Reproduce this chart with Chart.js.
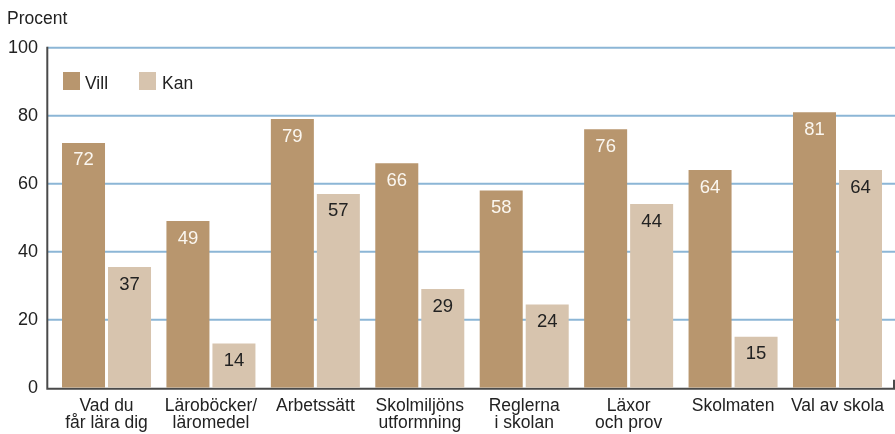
<!DOCTYPE html>
<html>
<head>
<meta charset="utf-8">
<script src="https://cdn.jsdelivr.net/npm/chart.js@4"></script>
<style>
  html, body { margin: 0; padding: 0; background: #fff; }
</style>
</head>
<body>
<canvas id="chart" width="895" height="434"></canvas>
<script>
const categories = [
    ['Vad du', 'får lära dig'],
    ['Läroböcker/', 'läromedel'],
    'Arbetssätt',
    ['Skolmiljöns', 'utformning'],
    ['Reglerna', 'i skolan'],
    ['Läxor', 'och prov'],
    'Skolmaten',
    'Val av skola'
]
// bar heights as drawn in the picture
const villValues = [72, 49, 79, 66, 58, 76, 64, 81]
const kanValues = [35.5, 13, 57, 29, 24.5, 54, 15, 64]
// numbers printed on the bars
const villPrinted = [72, 49, 79, 66, 58, 76, 64, 81]
const kanPrinted = [37, 14, 57, 29, 24, 44, 15, 64]
const yTicks = [0, 20, 40, 60, 80, 100]

const FONT = '"Liberation Sans", Arial, sans-serif'
const TEXT = '#222222'
const VILL = '#b8966e'
const KAN = '#d7c4ae'

const gridPlugin = {
    id: 'grid',
    beforeDatasetsDraw(chart) {
        const c = chart.ctx
        const y = chart.scales.y
        const left = chart.chartArea.left - 7
        const right = chart.width
        const zero = y.getPixelForValue(0)
        c.save()
        c.strokeStyle = '#8cb6d6'
        c.lineWidth = 2
        yTicks.forEach(v => {
            if (v === 0) return
            const py = y.getPixelForValue(v)
            c.beginPath()
            c.moveTo(left, py)
            c.lineTo(right, py)
            c.stroke()
        })
        c.strokeStyle = '#4a4a4a'
        c.beginPath()
        c.moveTo(left, y.getPixelForValue(100) - 1)
        c.lineTo(left, zero + 1)
        c.lineTo(right - 1, zero + 1)
        c.lineTo(right - 1, zero - 8)
        c.stroke()
        c.restore()
    }
}

const labelPlugin = {
    id: 'barLabels',
    afterDatasetsDraw(chart) {
        const c = chart.ctx
        const printed = [villPrinted, kanPrinted]
        const colors = ['#fbf7f0', '#222222']
        c.save()
        c.font = '18.5px ' + FONT
        c.textAlign = 'center'
        c.textBaseline = 'alphabetic'
        chart.data.datasets.forEach((ds, di) => {
            chart.getDatasetMeta(di).data.forEach((bar, i) => {
                c.fillStyle = colors[di]
                c.fillText(String(printed[di][i]), bar.x, bar.y + 22.5)
            })
        })
        c.restore()
    }
}

const legendPlugin = {
    id: 'sideText',
    afterDraw(chart) {
        const c = chart.ctx
        c.save()
        c.font = '17.5px ' + FONT
        c.fillStyle = TEXT
        c.textBaseline = 'alphabetic'
        c.fillText('Procent', 7, 24)
        c.fillStyle = VILL
        c.fillRect(63, 72, 17, 18)
        c.fillStyle = KAN
        c.fillRect(139, 72, 17, 18)
        c.fillStyle = TEXT
        c.fillText('Vill', 85, 89)
        c.fillText('Kan', 162, 89)
        c.restore()
    }
}

new Chart(document.getElementById('chart'), {
    type: 'bar',
    data: {
        labels: categories,
        datasets: [
            { label: 'Vill', data: villValues, backgroundColor: VILL },
            { label: 'Kan', data: kanValues, backgroundColor: KAN }
        ]
    },
    options: {
        responsive: false,
        animation: false,
        categoryPercentage: 0.881,
        barPercentage: 0.935,
        layout: { padding: { top: 47.7, right: 5.3, bottom: 0, left: 0 } },
        plugins: {
            legend: { display: false },
            tooltip: { enabled: false }
        },
        scales: {
            x: {
                grid: { display: false, drawTicks: false },
                border: { display: false },
                ticks: {
                    color: TEXT,
                    font: { family: FONT, size: 17.5, lineHeight: '17px' },
                    padding: 10,
                    maxRotation: 0,
                    autoSkip: false
                },
                afterFit(scale) { scale.height = 46.3 }
            },
            y: {
                min: 0,
                max: 100,
                grid: { display: false, drawTicks: false },
                border: { display: false },
                ticks: {
                    stepSize: 20,
                    color: TEXT,
                    font: { family: FONT, size: 18 },
                    padding: 16.3
                },
                afterFit(scale) { scale.width = 54.3 }
            }
        }
    },
    plugins: [gridPlugin, labelPlugin, legendPlugin]
})
</script>
</body>
</html>
